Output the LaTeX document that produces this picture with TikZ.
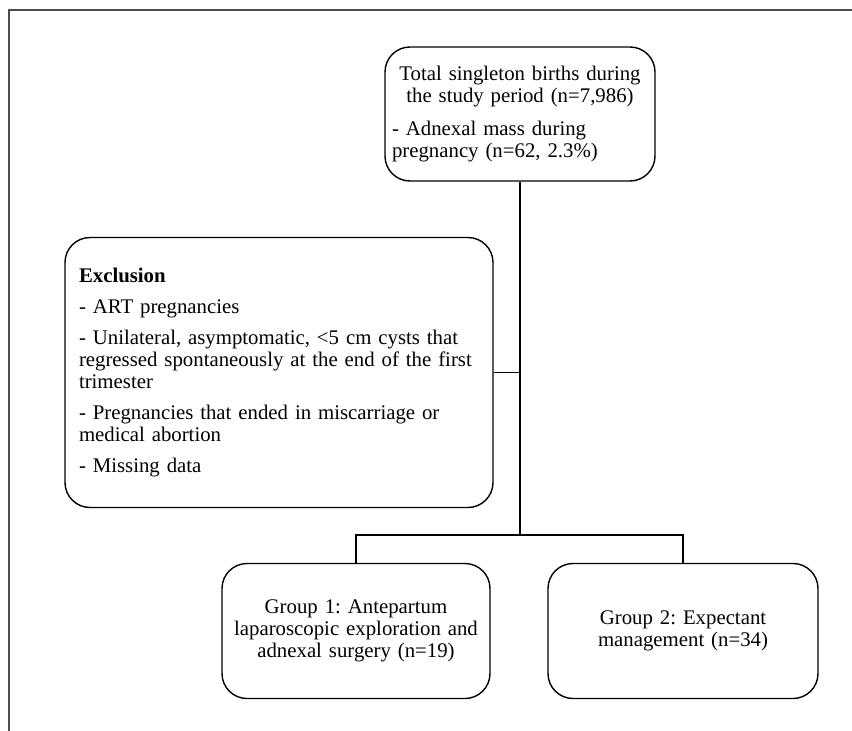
\documentclass[tikz,border=0pt]{standalone}
\usepackage{fontspec}
\setmainfont{Liberation Serif}
\usepackage{tikz}
\usetikzlibrary{positioning}
\frenchspacing
\tikzstyle{countbox} = [rectangle, rounded corners=25pt, draw=black, line width=1.4pt, inner sep=0pt, font=\fontsize{20.8}{21.8}\selectfont]
\tikzstyle{connector} = [line width=1.4pt]
\tikzstyle{frame} = [line width=1.6pt, draw=black!70]

\begin{document}
\begin{tikzpicture}[x=1pt, y=-1pt, node distance=258.5pt]

\useasboundingbox (0,0) rectangle (852,731);
\draw [frame] (9,731) -- (9,10) -- (852,10);

\node (total) [countbox, minimum width=270pt, minimum height=134pt, text width=256pt] at (520,114) {{\centering Total singleton births during\\ the study period (n=7,986)\par}\vspace{11pt}- Adnexal mass during\\ pregnancy (n=62, 2.3\%)};

\node (excl) [countbox, below of=total, xshift=-241pt, minimum width=428pt, minimum height=270pt, text width=400pt, align=left] {\textbf{Exclusion}\\[9.5pt]
- ART pregnancies\\[9.5pt]
- Unilateral, asymptomatic, <5 cm cysts that\\ regressed spontaneously at the end of the first\\ trimester\\[9.5pt]
- Pregnancies that ended in miscarriage or\\ medical abortion\\[9.5pt]
- Missing data};

\node (grp1) [countbox, below of=excl, xshift=77pt, minimum width=268pt, minimum height=135pt, text width=256pt, align=center] {Group 1: Antepartum\\ laparoscopic exploration and\\ adnexal surgery (n=19)};

\node (grp2) [countbox, right of=grp1, xshift=68.5pt, minimum width=270pt, minimum height=135pt, text width=256pt, align=center] {Group 2: Expectant\\ management (n=34)};

\coordinate (split) at ([yshift=28pt]total |- grp1.north);

\draw [connector] (total) -- (split);
\draw [connector] (excl.east) -- (excl.east -| total);
\draw [connector] (split) -| (grp1);
\draw [connector] (split) -| (grp2);

\end{tikzpicture}
\end{document}
